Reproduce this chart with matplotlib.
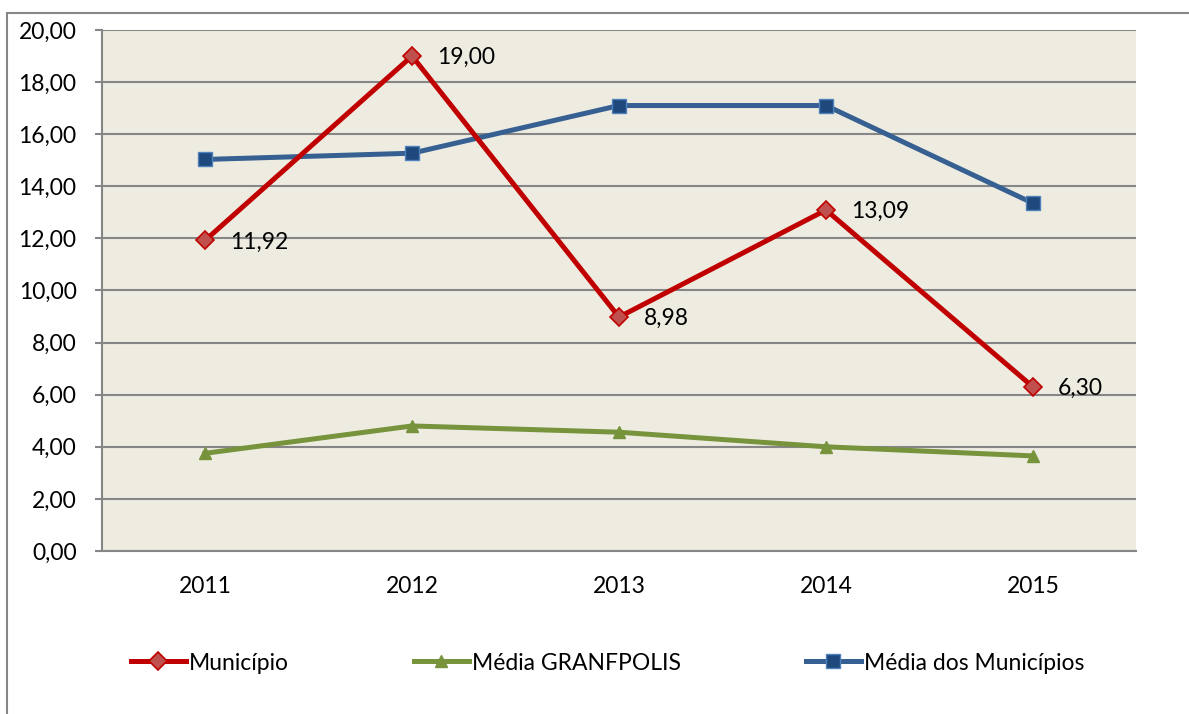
import matplotlib.pyplot as plt
from matplotlib.patches import Rectangle

# dados
anos = ['2011', '2012', '2013', '2014', '2015']
municipio = [11.92, 19.00, 8.98, 13.09, 6.30]
media_granfpolis = [3.75, 4.80, 4.56, 4.00, 3.65]
media_municipios = [15.03, 15.27, 17.10, 17.10, 13.35]

plt.rcParams['font.family'] = ['Lato', 'DejaVu Sans']
plt.rcParams['font.size'] = 16.5

fig = plt.figure(figsize=(11.89, 7.14), dpi=100)
ax = fig.add_axes([0.0854, 0.2283, 0.8704, 0.7297])
ax.set_facecolor('#EEECE1')

x = list(range(len(anos)))

ax.plot(x, municipio, color='#C00000', lw=3.6, marker='D', ms=9.5,
        mfc='#C0504D', mec='#C00000', mew=1.2, label='Município', zorder=4)
ax.plot(x, media_granfpolis, color='#77933C', lw=3.6, marker='^', ms=9,
        mfc='#77933C', mec='#77933C', label='Média GRANFPOLIS', zorder=3)
ax.plot(x, media_municipios, color='#376092', lw=3.6, marker='s', ms=10,
        mfc='#1F497D', mec='#4F81BD', mew=1, label='Média dos Municípios', zorder=3)

# rotulos dos valores do municipio
for xi, v in zip(x, municipio):
    ax.annotate(f'{v:.2f}'.replace('.', ','), (xi, v), xytext=(18, -1),
                textcoords='offset points', ha='left', va='center')

ax.set_xlim(-0.5, len(anos) - 0.5)
ax.set_ylim(0, 20)
ax.set_yticks(range(0, 21, 2))
ax.set_yticklabels([f'{v:.2f}'.replace('.', ',') for v in range(0, 21, 2)])
ax.set_xticks(x)
ax.set_xticklabels(anos)
ax.grid(axis='y', color='#868686', lw=1.5)
ax.set_axisbelow(True)

for s in ['top', 'right']:
    ax.spines[s].set_visible(False)
ax.spines['left'].set_color('#868686')
ax.spines['bottom'].set_color('#868686')
ax.spines['left'].set_linewidth(1.5)
ax.spines['bottom'].set_linewidth(1.5)
ax.tick_params(axis='y', length=5, width=1.5, color='#868686', pad=13)
ax.tick_params(axis='x', length=0, pad=18)

fig.legend(loc='center', bbox_to_anchor=(607.5 / 1189, 1 - 663 / 714), ncol=3,
           frameon=False, handlelength=2.4, handletextpad=0.13,
           columnspacing=5.45)

# moldura do grafico
fig.patches.append(Rectangle((7 / 1189, -0.05), 1.2, 0.05 + 1 - 13 / 714,
                             transform=fig.transFigure, fill=False,
                             edgecolor='#868686', lw=1.5))

fig.savefig('out.png', dpi=100)
